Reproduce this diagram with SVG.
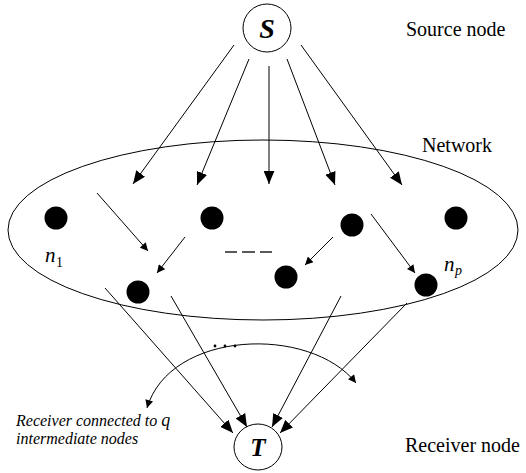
<svg xmlns="http://www.w3.org/2000/svg" width="526" height="473" viewBox="0 0 526 473">
<defs>
<marker id="ah" viewBox="0 0 12 10" refX="12" refY="5" markerWidth="13" markerHeight="11" markerUnits="userSpaceOnUse" orient="auto">
<path d="M0,0 L12,5 L0,10 z" fill="#000"/>
</marker>
<marker id="ahs" viewBox="0 0 10 10" refX="10" refY="5" markerWidth="9" markerHeight="8" markerUnits="userSpaceOnUse" orient="auto-start-reverse">
<path d="M0,0 L10,5 L0,10 z" fill="#000"/>
</marker>
</defs>
<style>
text{font-family:'Liberation Serif','Times New Roman','DejaVu Serif',serif;fill:#000}
.lbl{font-size:20px}
.it{font-style:italic;font-size:16px}
.math{font-style:italic;font-size:21px}
.sub{font-size:14px}
.big{font-style:italic;font-weight:bold;font-size:28px}
.ring{fill:#fff;stroke:#000;stroke-width:1}
.dot{fill:#000}
.edge{stroke:#000;stroke-width:1;fill:none}
</style>
<g id="network">
<ellipse cx="263" cy="230" rx="255" ry="90" fill="none" stroke="#000" stroke-width="1"/>
<text class="lbl" x="422" y="152">Network</text>
</g>
<g id="source">
<circle class="ring" cx="267" cy="28" r="24"/>
<text class="big" x="267" y="38" text-anchor="middle">S</text>
<text class="lbl" x="406" y="36">Source node</text>
</g>
<g id="receiver">
<ellipse class="ring" cx="258" cy="447" rx="24" ry="23"/>
<text class="big" x="258" y="456" text-anchor="middle" style="font-size:25px">T</text>
<text class="lbl" x="405" y="452">Receiver node</text>
</g>
<g id="n1"><circle class="dot" cx="56" cy="218" r="11.5"/></g>
<g id="n2"><circle class="dot" cx="212" cy="218" r="11.5"/></g>
<g id="n3"><circle class="dot" cx="352" cy="225" r="11.5"/></g>
<g id="n4"><circle class="dot" cx="456" cy="218" r="11.5"/></g>
<g id="n5"><circle class="dot" cx="138" cy="292" r="11.5"/></g>
<g id="n6"><circle class="dot" cx="286" cy="277" r="11.5"/></g>
<g id="n7"><circle class="dot" cx="426" cy="285" r="11.5"/></g>
<g id="labels">
<text class="math" x="45" y="262">n</text><text class="sub" x="56" y="267">1</text>
<text class="math" x="444" y="271">n</text><text class="sub" x="455" y="275" style="font-style:italic">p</text>
<g stroke="#000" stroke-width="1.3">
<line x1="225" y1="252" x2="237" y2="252"/>
<line x1="242" y1="252" x2="255" y2="252"/>
<line x1="260" y1="252" x2="272" y2="252"/>
</g>
<circle cx="215" cy="346" r="1.4"/><circle cx="225" cy="346" r="1.4"/><circle cx="235" cy="346" r="1.4"/>
<text class="it" x="16" y="426">Receiver connected to <tspan style="font-size:18px">q</tspan></text>
<text class="it" x="16" y="444">intermediate nodes</text>
</g>
<g id="connectors">
<line class="edge" x1="234" y1="45" x2="133" y2="184" marker-end="url(#ah)"/>
<line class="edge" x1="249" y1="59" x2="197" y2="185" marker-end="url(#ah)"/>
<line class="edge" x1="269" y1="66" x2="269" y2="184" marker-end="url(#ah)"/>
<line class="edge" x1="287" y1="59" x2="335" y2="185" marker-end="url(#ah)"/>
<line class="edge" x1="301" y1="45" x2="402" y2="185" marker-end="url(#ah)"/>
<line class="edge" x1="97" y1="193" x2="148" y2="251" marker-end="url(#ahs)"/>
<line class="edge" x1="185" y1="237" x2="157" y2="273" marker-end="url(#ahs)"/>
<line class="edge" x1="333" y1="237" x2="305" y2="265" marker-end="url(#ahs)"/>
<line class="edge" x1="371" y1="214" x2="415" y2="273" marker-end="url(#ahs)"/>
<line class="edge" x1="105" y1="288" x2="233" y2="433" marker-end="url(#ah)"/>
<line class="edge" x1="171" y1="296" x2="247" y2="427" marker-end="url(#ah)"/>
<line class="edge" x1="341" y1="296" x2="272" y2="427" marker-end="url(#ah)"/>
<line class="edge" x1="407" y1="303" x2="280" y2="433" marker-end="url(#ah)"/>
<path class="edge" d="M147,408 C170,330 310,325 356,383" marker-start="url(#ahs)" marker-end="url(#ahs)"/>
</g>
</svg>
